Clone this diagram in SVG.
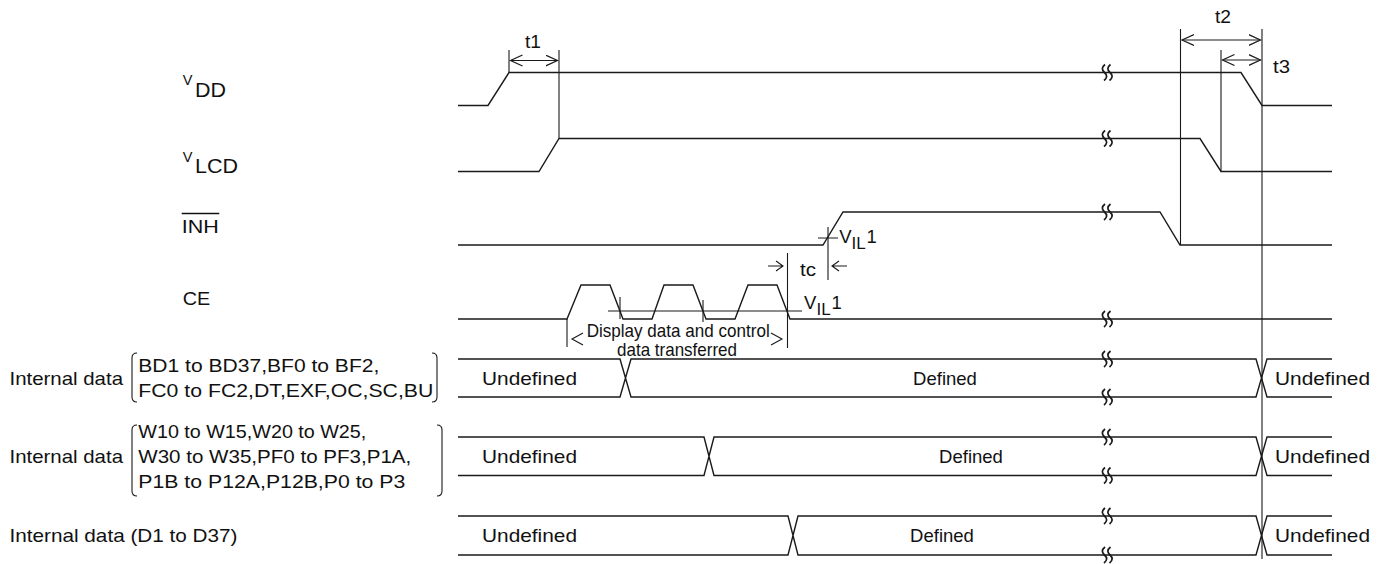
<svg xmlns="http://www.w3.org/2000/svg" width="1389" height="564" viewBox="0 0 1389 564">
<style>
.sig{fill:none;stroke:#1a1a1a;stroke-width:1.4}
.guide{fill:none;stroke:#1a1a1a;stroke-width:1.1}
.brk{fill:none;stroke:#1a1a1a;stroke-width:1.7}
.t{font-family:"Liberation Sans",Arial,sans-serif;font-size:18.5px;fill:#111}
.n{font-family:"Liberation Sans",Arial,sans-serif;font-size:19px;fill:#111}
</style>
<defs>
<marker id="ah" markerUnits="userSpaceOnUse" markerWidth="14" markerHeight="13" refX="12" refY="6" orient="auto-start-reverse" viewBox="0 0 14 13">
<path d="M0,0.5 L12,6 L0,11.5" fill="none" stroke="#1a1a1a" stroke-width="1.2"/>
</marker>
<path id="bk" d="M-2,-8 Q-7,-4 -2.5,0 Q2,4 -3,8 M3.5,-8 Q-1.5,-4 3,0 Q7.5,4 2.5,8" class="brk"/>
</defs>

<g id="labels">
<text class="t" x="182.7" y="85" style="font-size:14.5px">V</text>
<text class="t" x="195" y="96.7" style="font-size:20px" textLength="31" lengthAdjust="spacingAndGlyphs">DD</text>
<text class="t" x="182.7" y="161.7" style="font-size:14.5px">V</text>
<text class="t" x="195" y="173.3" style="font-size:20px" textLength="43" lengthAdjust="spacingAndGlyphs">LCD</text>
<text class="t" x="181.7" y="233.3" textLength="37" lengthAdjust="spacingAndGlyphs">INH</text>
<line x1="181.7" y1="213.5" x2="219.3" y2="213.5" stroke="#111" stroke-width="1.3"/>
<text class="t" x="182.7" y="305" textLength="27.5" lengthAdjust="spacingAndGlyphs">CE</text>
</g>

<g id="vdd">
<path class="sig" d="M458,105.5 H488 L509,72.5 H1241 L1262,105.5 H1332"/>
</g>
<g id="vlcd">
<path class="sig" d="M458,171.5 H539 L559,138.5 H1200 L1221,171.5 H1332"/>
</g>
<g id="inh">
<path class="sig" d="M458,245 H823 L843,212 H1160 L1180,245 H1332"/>
</g>
<g id="ce">
<path class="sig" d="M458,319 H567 L581,285 H610 L623,319 H652 L664,285 H693 L706,319 H735 L748,285 H777 L790,319 H1332"/>
</g>

<g id="data1">
<text class="t" x="9.5" y="384.6" textLength="113.5" lengthAdjust="spacingAndGlyphs">Internal data</text>
<path class="guide" d="M137,353 Q132,353 132,358 V397 Q132,402 137,402 M432,353 Q437,353 437,358 V397 Q437,402 432,402"/>
<text class="t" x="138.3" y="371.7" textLength="241" lengthAdjust="spacingAndGlyphs">BD1 to BD37,BF0 to BF2,</text>
<text class="t" x="138.3" y="396.7" textLength="295" lengthAdjust="spacingAndGlyphs">FC0 to FC2,DT,EXF,OC,SC,BU</text>
<path class="sig" d="M458,359 H620 L631,397 H1256 L1267,359 H1332 M458,397 H620 L631,359 H1256 L1267,397 H1332"/>
<text class="t" x="482" y="385" textLength="95" lengthAdjust="spacingAndGlyphs">Undefined</text>
<text class="t" x="945" y="385" text-anchor="middle">Defined</text>
<text class="t" x="1275" y="385" textLength="95" lengthAdjust="spacingAndGlyphs">Undefined</text>
</g>

<g id="data2">
<text class="t" x="9.5" y="462.5" textLength="113.5" lengthAdjust="spacingAndGlyphs">Internal data</text>
<path class="guide" d="M137,425 Q132,425 132,430 V491 Q132,496 137,496 M437,425 Q442,425 442,430 V491 Q442,496 437,496"/>
<text class="t" x="138.3" y="437.5" textLength="228" lengthAdjust="spacingAndGlyphs">W10 to W15,W20 to W25,</text>
<text class="t" x="138.3" y="462.5" textLength="273" lengthAdjust="spacingAndGlyphs">W30 to W35,PF0 to PF3,P1A,</text>
<text class="t" x="138.3" y="487.5" textLength="267" lengthAdjust="spacingAndGlyphs">P1B to P12A,P12B,P0 to P3</text>
<path class="sig" d="M458,437 H704 L714,475.5 H1256 L1267,437 H1332 M458,475.5 H704 L714,437 H1256 L1267,475.5 H1332"/>
<text class="t" x="482" y="463" textLength="95" lengthAdjust="spacingAndGlyphs">Undefined</text>
<text class="t" x="971" y="463" text-anchor="middle">Defined</text>
<text class="t" x="1275" y="463" textLength="95" lengthAdjust="spacingAndGlyphs">Undefined</text>
</g>

<g id="data3">
<text class="t" x="9.5" y="542" textLength="228" lengthAdjust="spacingAndGlyphs">Internal data (D1 to D37)</text>
<path class="sig" d="M458,516 H788 L798,555 H1256 L1267,516 H1332 M458,555 H788 L798,516 H1256 L1267,555 H1332"/>
<text class="t" x="482" y="542" textLength="95" lengthAdjust="spacingAndGlyphs">Undefined</text>
<text class="t" x="942" y="542" text-anchor="middle">Defined</text>
<text class="t" x="1275" y="542" textLength="95" lengthAdjust="spacingAndGlyphs">Undefined</text>
</g>

<g id="breaks">
<use href="#bk" x="1107" y="72.5"/>
<use href="#bk" x="1107" y="138.5"/>
<use href="#bk" x="1107" y="212"/>
<use href="#bk" x="1107" y="319"/>
<use href="#bk" x="1107" y="359"/>
<use href="#bk" x="1107" y="397"/>
<use href="#bk" x="1107" y="437"/>
<use href="#bk" x="1107" y="475.5"/>
<use href="#bk" x="1107" y="516"/>
<use href="#bk" x="1107" y="555"/>
</g>

<g id="connectors">
<path class="guide" d="M509,50 V72.5 M559,50 V138.5"/>
<line class="guide" x1="510.5" y1="60.5" x2="557.5" y2="60.5" marker-start="url(#ah)" marker-end="url(#ah)"/>
<text class="t" x="525" y="48.3" textLength="16" lengthAdjust="spacingAndGlyphs">t1</text>
<path class="guide" d="M1180.5,29 V245 M1221,50 V171.5 M1262,29 V559"/>
<line class="guide" x1="1182" y1="40" x2="1260.5" y2="40" marker-start="url(#ah)" marker-end="url(#ah)"/>
<line class="guide" x1="1222.5" y1="60" x2="1260.5" y2="60" marker-start="url(#ah)" marker-end="url(#ah)"/>
<text class="t" x="1215" y="22.5" textLength="16" lengthAdjust="spacingAndGlyphs">t2</text>
<text class="t" x="1273" y="72.5" textLength="17" lengthAdjust="spacingAndGlyphs">t3</text>
<path class="guide" d="M828,227 V280 M818,238 H838"/>
<text class="t" x="839.3" y="243.3">V<tspan x="851.5" y="248.5" style="font-size:17px">IL</tspan><tspan x="866.5" y="243.3">1</tspan></text>
<path class="guide" d="M787.5,253 V348"/>
<path class="guide" d="M768,266 H783 M776,261 L783,266 L776,271 M847,266 H832 M839,261 L832,266 L839,271"/>
<text class="t" x="800" y="276" textLength="16" lengthAdjust="spacingAndGlyphs">tc</text>
<path class="guide" d="M608,311 H802 M620,297 V319 M703,300 V322 M567,319 V347"/>
<text class="t" x="804" y="309.3">V<tspan x="816.5" y="314.8" style="font-size:17px">IL</tspan><tspan x="831.5" y="309.3">1</tspan></text>
<path class="guide" d="M583,333 L572,339 L583,345 M771,333 L782,339 L771,345"/>
<text class="n" x="586.7" y="336.7" textLength="183" lengthAdjust="spacingAndGlyphs">Display data and control</text>
<text class="n" x="617" y="355.5" textLength="120" lengthAdjust="spacingAndGlyphs">data transferred</text>
</g>
</svg>
